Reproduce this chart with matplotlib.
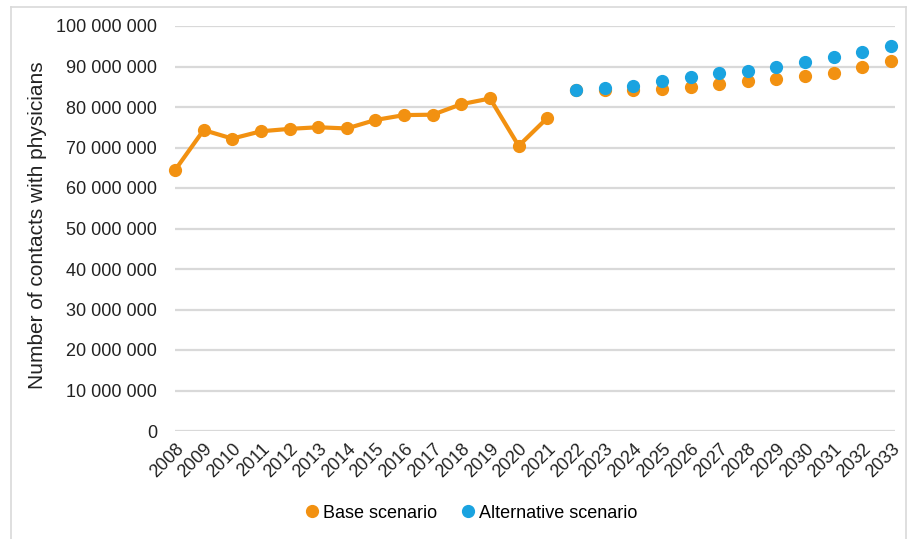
import numpy as np
import matplotlib
matplotlib.use('Agg')
from matplotlib import pyplot as plt
from matplotlib.lines import Line2D
from matplotlib.ticker import FuncFormatter

plt.rcParams['font.family'] = ['Liberation Sans', 'DejaVu Sans']

# observed contacts, millions
years_obs = list(range(2008, 2022))
base_obs = [64.4, 74.3, 72.2, 74.0, 74.6, 75.0, 74.7, 76.8, 78.0, 78.1, 80.7, 82.1, 70.4, 77.3]

# projections, millions
years_proj = list(range(2022, 2034))
base_proj = [84.2, 84.1, 84.2, 84.5, 85.0, 85.8, 86.5, 86.9, 87.7, 88.5, 90.0, 91.4]
alt_proj = [84.2, 84.8, 85.3, 86.3, 87.3, 88.3, 89.0, 90.0, 91.2, 92.3, 93.7, 95.1]

all_years = list(range(2008, 2034))
y_ticks = np.arange(0, 100_000_001, 10_000_000)

orange = '#F29111'
blue = '#1AA3E0'
grid_col = '#D9D9D9'

W, H = 908, 539
fig = plt.figure(figsize=(W / 100, H / 100), dpi=100)
ax = fig.add_axes([175 / W, 1 - 431 / H, (895 - 175) / W, (431 - 26) / H])

obs = np.array(base_obs) * 1e6
ax.plot(years_obs, obs, color=orange, lw=3, marker='o', ms=8.5,
        solid_joinstyle='round', clip_on=False, zorder=3)
ax.plot(years_proj, np.array(base_proj) * 1e6, ls='none', marker='o', ms=8.5,
        color=orange, clip_on=False, zorder=3)
ax.plot(years_proj, np.array(alt_proj) * 1e6, ls='none', marker='o', ms=8.5,
        color=blue, clip_on=False, zorder=4)

ax.set_xlim(2008, 2033 + 4 / 28.64)
ax.set_ylim(0, 100_000_000)
ax.set_yticks(y_ticks)
ax.yaxis.set_major_formatter(FuncFormatter(lambda v, p: f'{int(v):,}'.replace(',', ' ')))
ax.set_xticks(all_years)
ax.set_xticklabels([str(y) for y in all_years], rotation=45, ha='right',
                   rotation_mode='anchor', fontsize=13, color='#222222')
ax.tick_params(axis='y', labelsize=13, labelcolor='#222222', length=0, pad=13)
ax.tick_params(axis='x', length=0, pad=7)
ax.grid(axis='y', color=grid_col, lw=1.6)
ax.set_axisbelow(True)
for s in ax.spines.values():
    s.set_visible(False)

fig.text(38 / W, 1 - 225 / H, 'Number of contacts with physicians', rotation=90,
         ha='center', va='center', fontsize=15, color='#222222')

handles = [Line2D([], [], ls='none', marker='o', ms=8.5, color=orange),
           Line2D([], [], ls='none', marker='o', ms=8.5, color=blue)]
fig.legend(handles, ['Base scenario', 'Alternative scenario'], ncol=2,
           loc='center', bbox_to_anchor=(470 / W, 1 - 513 / H), frameon=False,
           fontsize=13, handletextpad=0.1, columnspacing=1.2, handlelength=1.0)

# thin frame round the chart
for xs, ys in [((11, 11), (539, 7)), ((11, 906), (7, 7)), ((906, 906), (7, 539))]:
    fig.add_artist(Line2D([x / W for x in xs], [1 - y / H for y in ys],
                          color=grid_col, lw=1.2))

fig.savefig('out.png', dpi=100)
